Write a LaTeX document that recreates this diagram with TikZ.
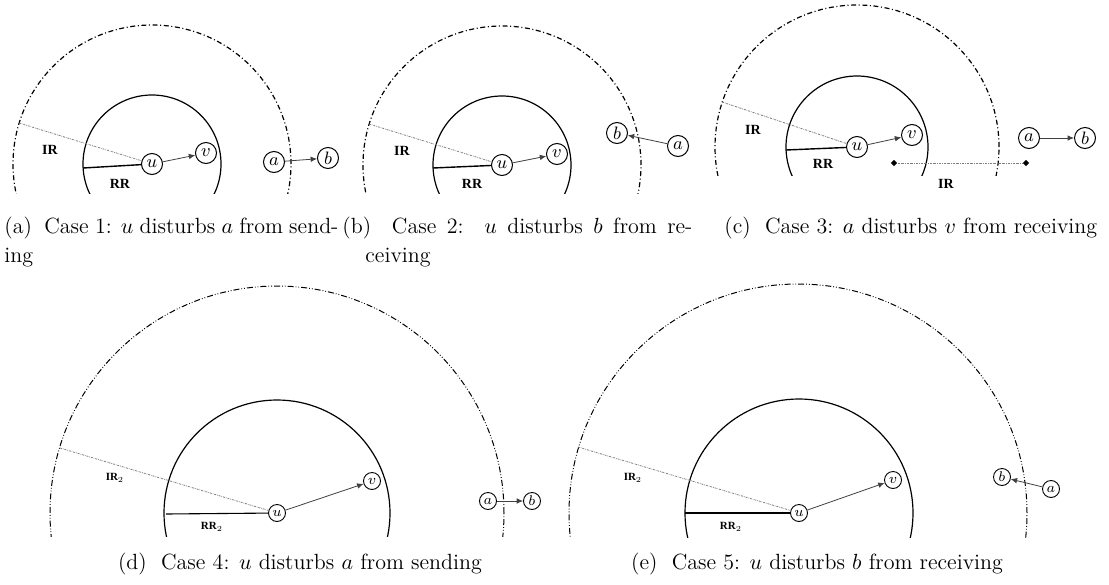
\documentclass[tikz,border=0pt]{standalone}
\usepackage{fontspec}
\newfontfamily\lblfont{Liberation Serif}
\usetikzlibrary{arrows.meta,shapes.geometric}
\begin{document}
\begin{tikzpicture}[x=0.5pt,y=-0.5pt,
  nd/.style={circle,draw,line width=0.5pt,inner sep=0pt,minimum size=10.5pt,font=\fontsize{9}{9}\selectfont},
  nds/.style={circle,draw,line width=0.45pt,inner sep=0pt,minimum size=8.5pt,font=\fontsize{7}{7}\selectfont},
  outer/.style={line width=0.6pt,dash pattern=on 2.5pt off 1.3pt on 0.5pt off 1.3pt},
  outerd/.style={line width=0.5pt,dash pattern=on 3pt off 1pt on 0.4pt off 1pt on 0.4pt off 1pt},
  inner/.style={line width=0.6pt},
  irline/.style={gray,line width=0.4pt,dash pattern=on 1pt off 0.5pt on 0.3pt off 0.5pt},
  rrline/.style={line width=0.7pt},
  rrlines/.style={line width=0.55pt},
  arr/.style={-{Latex[length=3.2pt,width=2.8pt]},line width=0.4pt,black!75},
  lbl/.style={font=\lblfont\bfseries\fontsize{7}{7}\selectfont,inner sep=0pt},
  lbls/.style={font=\lblfont\bfseries\fontsize{5.5}{5.5}\selectfont,inner sep=0pt},
  captxt/.style={font=\fontsize{11}{13}\selectfont,inner sep=0pt},
  dmd/.style={diamond,fill,inner sep=0pt,minimum size=3.2pt}
]
\useasboundingbox (0,0) rectangle (1109,584);

% ---------- panel (a)
\begin{scope}
\clip (0,0) rectangle (360,193);
\draw[outer] (152,164) circle[radius=69.5pt];
\draw[inner] (152,164) circle[radius=34.5pt];
\end{scope}
\node[nd] (ua) at (152,164) {$u$};
\node[nd] (va) at (206,153) {$v$};
\node[nd] (aa) at (274,162) {$a$};
\node[nd] (ba) at (328,158) {$b$};
\coordinate (ira) at (19,123);
\coordinate (rra) at (83,168);
\draw[irline] (ira) -- (ua);
\draw[rrline] (rra) -- (ua);
\draw[arr] (ua) -- (va);
\draw[arr] (aa) -- (ba);
\node[lbl] (lia) at (50,150) {IR};
\node[lbl] (lra) at (120,184) {RR};

% ---------- panel (b)
\begin{scope}
\clip (340,0) rectangle (700,193);
\draw[outer] (502,165) circle[radius=69.5pt];
\draw[inner] (502,165) circle[radius=34.5pt];
\end{scope}
\node[nd] (ub) at (502,165) {$u$};
\node[nd] (vb) at (557,154) {$v$};
\node[nd] (bb) at (617,133) {$b$};
\node[nd] (ab) at (678,146) {$a$};
\coordinate (irb) at (369,124);
\coordinate (rrb) at (433,168);
\draw[irline] (irb) -- (ub);
\draw[rrline] (rrb) -- (ub);
\draw[arr] (ub) -- (vb);
\draw[arr] (ab) -- (bb);
\node[lbl] (lib) at (402,151) {IR};
\node[lbl] (lrb) at (472,184) {RR};

% ---------- panel (c)
\begin{scope}
\clip (700,0) rectangle (1109,175);
\draw[outer] (857,147) circle[radius=71pt];
\draw[inner] (857,147) circle[radius=35.5pt];
\end{scope}
\node[nd] (uc) at (857,147) {$u$};
\node[nd] (vc) at (912,135) {$v$};
\node[nd] (ac) at (1029,138) {$a$};
\node[nd] (bc) at (1085,138) {$b$};
\node[dmd] (d1) at (894,163) {};
\node[dmd] (d2) at (1026,163) {};
\coordinate (irc) at (722,102);
\coordinate (rrc) at (786,150);
\draw[irline] (irc) -- (uc);
\draw[rrline] (rrc) -- (uc);
\draw[arr] (uc) -- (vc);
\draw[arr] (ac) -- (bc);
\draw[irline] (d1) -- (d2);
\node[lbl] (lic) at (753,130) {IR};
\node[lbl] (lrc) at (823,164) {RR};
\node[lbl] (lic2) at (946,184) {IR};

% ---------- panel (d)
\begin{scope}
\clip (30,270) rectangle (550,536);
\draw[outerd] (277,513) circle[radius=113.5pt];
\draw[inner] (277,513) circle[radius=56.5pt];
\end{scope}
\node[nds] (ud) at (277,513) {$u$};
\node[nds] (vd) at (372,481) {$v$};
\node[nds] (ad) at (488,501) {$a$};
\node[nds] (bd) at (532,501) {$b$};
\coordinate (ird) at (60,448);
\coordinate (rrd) at (166,514);
\draw[irline] (ird) -- (ud);
\draw[rrlines] (rrd) -- (ud);
\draw[arr] (ud) -- (vd);
\draw[arr] (ad) -- (bd);
\node[lbls] (lid) at (115,478) {IR\textsubscript{\normalfont 2}};
\node[lbls] (lrd) at (212,527) {RR\textsubscript{\normalfont 2}};

% ---------- panel (e)
\begin{scope}
\clip (550,270) rectangle (1109,537);
\draw[outerd] (798,513) circle[radius=114.5pt];
\draw[inner] (799,513) circle[radius=57pt];
\end{scope}
\node[nds] (ue) at (799,513) {$u$};
\node[nds] (ve) at (893,480) {$v$};
\node[nds] (be) at (1002,477) {$b$};
\node[nds] (ae) at (1051,489) {$a$};
\coordinate (ire) at (578,447);
\coordinate (rre) at (685,513);
\draw[irline] (ire) -- (ue);
\draw[rrlines] (rre) -- (ue);
\draw[arr] (ue) -- (ve);
\draw[arr] (ae) -- (be);
\node[lbls] (lie) at (633,478) {IR\textsubscript{\normalfont 2}};
\node[lbls] (lre) at (731,527) {RR\textsubscript{\normalfont 2}};

% ---------- captions
\node[captxt,anchor=base west] (capa1) at (4,233) {\makebox[167pt][s]{(a)\ \ Case 1: $u$ disturbs $a$ from send-}};
\node[captxt,anchor=base west] (capa2) at (4,262) {ing};
\node[captxt,anchor=base west] (capb1) at (342,233) {\makebox[175pt][s]{(b)\ \ Case 2:\ \ $u$ disturbs $b$ from re-}};
\node[captxt,anchor=base west] (capb2) at (365,262) {ceiving};
\node[captxt,anchor=base west] (capc) at (724,233) {(c)\ \ Case 3: $a$ disturbs $v$ from receiving};
\node[captxt,anchor=base] (capd) at (300,569) {(d)\ \ Case 4: $u$ disturbs $a$ from sending};
\node[captxt,anchor=base] (cape) at (817,569) {(e)\ \ Case 5: $u$ disturbs $b$ from receiving};
\end{tikzpicture}
\end{document}
